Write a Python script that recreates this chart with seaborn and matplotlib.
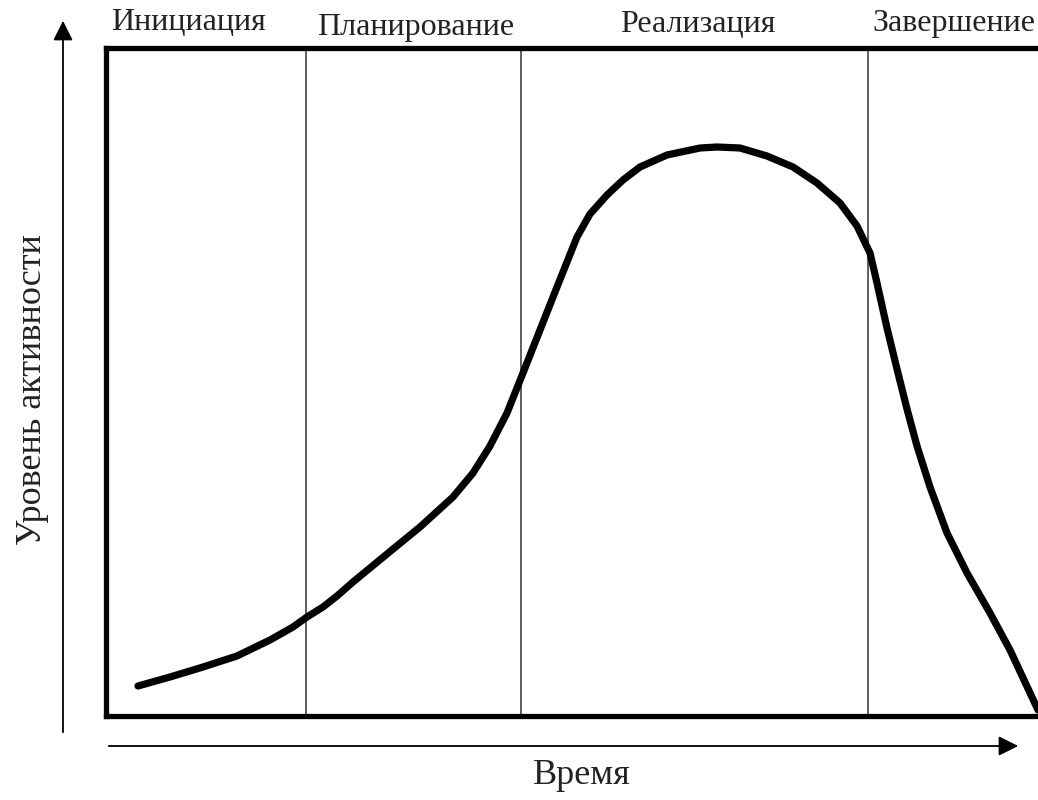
import matplotlib
matplotlib.use("Agg")
import matplotlib.pyplot as plt
import seaborn as sns
import pandas as pd

# Data
time = [32, 64, 97, 131, 164, 187, 201, 217, 231, 247, 281, 314, 347, 367, 384,
        401, 417, 434, 451, 461, 471, 484, 501, 517, 534, 561, 594, 611, 634,
        661, 687, 711, 734, 751, 764, 771, 781, 791, 801, 811, 824, 841, 861,
        884, 904, 932]
activity = [30, 39, 49, 60, 76, 89, 99, 109, 120, 134, 162, 189, 219, 243, 270,
            303, 343, 386, 429, 454, 479, 502, 521, 536, 549, 561, 568, 569, 568,
            560, 549, 533, 513, 490, 463, 433, 388, 347, 307, 270, 229, 183, 143,
            103, 66, 6]
phase_bounds = [200, 415, 762]
phase_labels = ["Инициация", "Планирование", "Реализация", "Завершение"]
phase_label_x = [83, 310, 592, 848]
phase_label_y = [693, 689, 692, 693]
x_label = "Время"
y_label = "Уровень активности"

sns.set_theme(style="white")
plt.rcParams['font.family'] = ['Liberation Serif', 'DejaVu Serif']

W, H = 1038, 800
fig = plt.figure(figsize=(W / 100, H / 100), dpi=100)
ax = fig.add_axes([106 / W, 1 - 716 / H, 1 - 106 / W, (716 - 48) / H])

df = pd.DataFrame({"t": time, "a": activity})
sns.lineplot(data=df, x="t", y="a", ax=ax, color="black", linewidth=5.2,
             solid_capstyle="round", solid_joinstyle="round", clip_on=False,
             zorder=5)

for b in phase_bounds:
    ax.axvline(b, color="#333333", linewidth=1.1, zorder=2)

ax.set_xlim(0, 932)
ax.set_ylim(0, 668)
ax.set_xticks([])
ax.set_yticks([])
ax.set_xlabel("")
ax.set_ylabel("")
for side in ["left", "top", "bottom"]:
    ax.spines[side].set_color("black")
    ax.spines[side].set_linewidth(3.8)
ax.spines["right"].set_visible(False)

for lbl, lx, ly in zip(phase_labels, phase_label_x, phase_label_y):
    ax.text(lx, ly, lbl, ha="center", va="center", fontsize=23, color="#222222",
            clip_on=False)

# Axis arrows
fig.add_artist(matplotlib.patches.FancyArrowPatch(
    (63 / W, 1 - 735 / H), (63 / W, 1 - 18 / H), transform=fig.transFigure,
    arrowstyle="-|>,head_length=8,head_width=4", mutation_scale=1.5,
    color="black", linewidth=1.3))
fig.add_artist(matplotlib.patches.FancyArrowPatch(
    (106 / W, 1 - 746 / H), (1021 / W, 1 - 746 / H), transform=fig.transFigure,
    arrowstyle="-|>,head_length=8,head_width=4", mutation_scale=1.5,
    color="black", linewidth=1.3))

fig.text(582 / W, 1 - 776 / H, x_label, ha="center", va="center", fontsize=26,
         color="#222222")
fig.text(33 / W, 1 - 390 / H, y_label, ha="center", va="center", fontsize=26,
         rotation=90, color="#222222")

fig.savefig("out.png", dpi=100)
